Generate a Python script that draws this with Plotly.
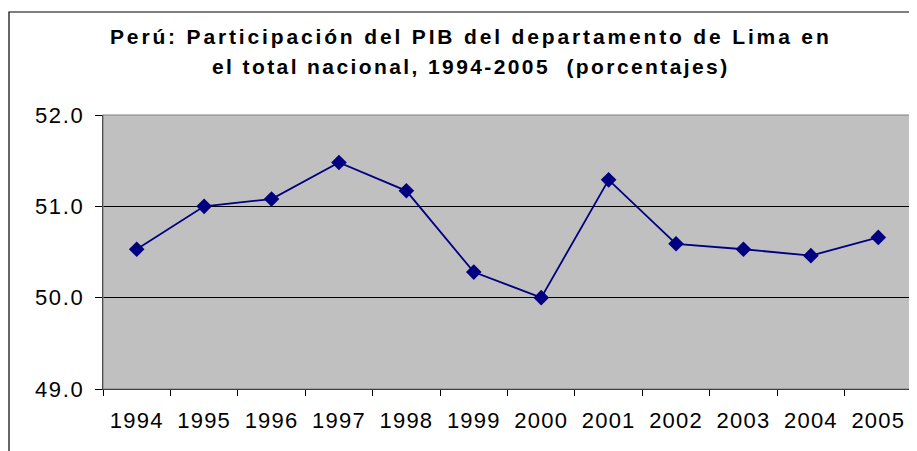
import plotly.graph_objects as go

# Participación del PIB de Lima en el total nacional (%)
years = ["1994", "1995", "1996", "1997", "1998", "1999",
         "2000", "2001", "2002", "2003", "2004", "2005"]
share = [50.53, 51.00, 51.08, 51.48, 51.17, 50.28,
         50.00, 51.29, 50.59, 50.53, 50.46, 50.66]
y_ticks = [49, 50, 51, 52]

title_1 = "Perú: Participación del PIB del departamento de Lima en"
title_2 = "el total nacional, 1994-2005 \u00a0(porcentajes)"

# the page has an 8px body margin, so the figure sits at (8, 8)
W, H = 909, 443
L, R, T, B = 95, 5, 107, 62
pw, ph = W - L - R, H - T - B


def spaced(s, ls):
    return f'<span style="letter-spacing:{ls}px">{s}</span>'


fig = go.Figure()

fig.add_trace(go.Scatter(
    x=years, y=share,
    mode="lines+markers",
    line=dict(color="#000080", width=1.8),
    marker=dict(symbol="diamond", size=12, color="#000080"),
    showlegend=False,
))

# outer chart frame (only top and left edges fall inside the picture)
fig.add_shape(type="rect", xref="paper", yref="paper",
              x0=(1 - L) / pw, x1=1.2, y0=-0.6, y1=1 + (T - 4) / ph,
              line=dict(color="black", width=1.2), layer="below")
# plot area border
fig.add_shape(type="rect", xref="paper", yref="paper",
              x0=0, x1=1, y0=0, y1=1,
              line=dict(color="#808080", width=1.2))

title_font = dict(size=21, color="black",
                  family="Liberation Sans, Arial, sans-serif", weight="bold")
cx = (463 - L) / pw
for txt, ypix, ls in [(title_1, 28, 2.85), (title_2, 58, 2.4)]:
    fig.add_annotation(text=spaced(txt, ls), xref="paper", yref="paper",
                       x=cx, y=1 + (T - ypix) / ph,
                       xanchor="center", yanchor="middle",
                       showarrow=False, font=title_font)

fig.update_layout(
    width=W, height=H,
    margin=dict(l=L, r=R, t=T, b=B),
    paper_bgcolor="white",
    plot_bgcolor="#C0C0C0",
    font=dict(family="Liberation Sans, Arial, sans-serif", color="black"),
)

fig.update_xaxes(
    type="category", range=[-0.5, 11.5],
    tickmode="array", tickvals=years,
    ticktext=[spaced(y, 1.2) for y in years],
    tickson="boundaries", ticks="outside", ticklen=6, tickcolor="black",
    showline=True, linecolor="black", linewidth=1.2, ticklabelstandoff=11,
    showgrid=False, tickfont=dict(size=22), fixedrange=True,
)
fig.update_yaxes(
    range=[49, 52],
    tickmode="array", tickvals=y_ticks,
    ticktext=[spaced(f"{v:.1f}", 1.7) for v in y_ticks],
    ticks="outside", ticklen=7, tickcolor="black",
    showline=True, linecolor="black", linewidth=1.2, ticklabelstandoff=6,
    showgrid=True, gridcolor="black", gridwidth=1,
    zeroline=False, tickfont=dict(size=22), fixedrange=True,
)

fig.write_html("out.html")
